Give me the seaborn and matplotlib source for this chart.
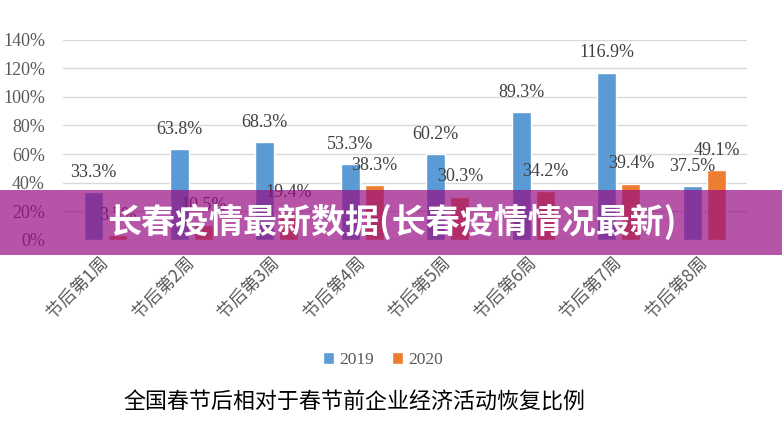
import matplotlib
matplotlib.use("Agg")
import matplotlib.pyplot as plt
import seaborn as sns
import pandas as pd
from matplotlib.patches import Rectangle
from matplotlib.ticker import FuncFormatter

weeks = ["节后第1周", "节后第2周", "节后第3周", "节后第4周",
         "节后第5周", "节后第6周", "节后第7周", "节后第8周"]
years = ["2019", "2020"]
v2019 = [33.3, 63.8, 68.3, 53.3, 60.2, 89.3, 116.9, 37.5]
v2020 = [3.5, 10.5, 19.4, 38.3, 30.3, 34.2, 39.4, 49.1]
yticks = [0, 20, 40, 60, 80, 100, 120, 140]
title = "全国春节后相对于春节前企业经济活动恢复比例"
banner = "长春疫情最新数据(长春疫情情况最新)"

df = pd.DataFrame({
    "week": weeks * 2,
    "year": [years[0]] * len(weeks) + [years[1]] * len(weeks),
    "value": v2019 + v2020,
})

sns.set_theme(style="white")
plt.rcParams["font.family"] = ["Liberation Serif", "Noto Sans CJK SC", "DejaVu Sans"]

W, H = 782, 447
fig = plt.figure(figsize=(W / 100, H / 100), dpi=100)
ax = fig.add_axes([63 / W, 1 - 240 / H, (747 - 63) / W, (240 - 39.5) / H])

palette = {"2019": "#5B9BD5", "2020": "#ED7D31"}
sns.barplot(data=df, x="week", y="value", hue="year", palette=palette,
            width=0.57, gap=0.22, ax=ax, saturation=1, legend=True)

ax.set_ylim(0, 140)
ax.set_yticks(yticks)
ax.yaxis.set_major_formatter(FuncFormatter(lambda v, p: f"{v:.0f}%"))
ax.grid(axis="y", color="#D9D9D9", linewidth=1)
ax.set_axisbelow(True)
for s in ax.spines.values():
    s.set_visible(False)
ax.set_xlabel("")
ax.set_ylabel("")
ax.tick_params(axis="y", length=0, pad=13, labelsize=13, labelcolor="#595959")
ax.tick_params(axis="x", length=0, pad=14, labelsize=12.5, labelcolor="#595959")
for lab in ax.get_xticklabels():
    lab.set_rotation(45)
    lab.set_ha("right")
    lab.set_va("center")
    lab.set_rotation_mode("anchor")
    lab.set_family(["Noto Sans CJK SC"])

for cont, vals in zip(ax.containers, [v2019, v2020]):
    ax.bar_label(cont, labels=[f"{v}%" for v in vals], padding=8,
                 fontsize=13, color="#404040")

ax.legend(loc="center", bbox_to_anchor=(383 / W, 1 - 360 / H),
          bbox_transform=fig.transFigure, ncol=2, frameon=False,
          handlelength=0.65, handleheight=0.65, columnspacing=1.0,
          handletextpad=0.3, fontsize=12.5, labelcolor="#595959")

fig.text(354 / W, 1 - 403 / H, title, ha="center", va="center",
         fontsize=15.8, color="#000000", family=["Noto Sans CJK SC"])

fig.patches.append(Rectangle((0, 1 - 255 / H), 1, 65 / H, transform=fig.transFigure,
                             facecolor=(151 / 255, 12 / 255, 131 / 255), alpha=0.7,
                             edgecolor="none", zorder=10))
fig.text(392 / W, 1 - 222 / H, banner, ha="center", va="center", fontsize=24.5,
         fontweight="bold", color="white", family=["Noto Sans CJK SC"], zorder=11)

fig.savefig("out.png", dpi=100)
